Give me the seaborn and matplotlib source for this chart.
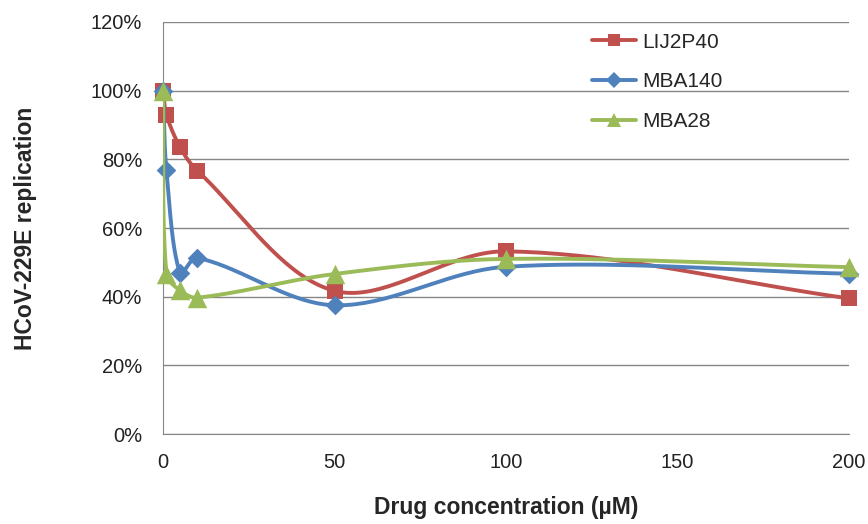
import numpy as np
import pandas as pd
import matplotlib
matplotlib.use("Agg")
import matplotlib.pyplot as plt
from matplotlib.lines import Line2D
from matplotlib.ticker import PercentFormatter
import seaborn as sns

conc = [0, 1, 5, 10, 50, 100, 200]
lij2p40 = [1.00, 0.93, 0.835, 0.767, 0.417, 0.532, 0.395]
mba140 = [1.00, 0.768, 0.468, 0.513, 0.375, 0.487, 0.467]
mba28 = [1.00, 0.466, 0.418, 0.397, 0.466, 0.510, 0.486]

series = ["LIJ2P40", "MBA140", "MBA28"]
colors = {"LIJ2P40": "#C0504D", "MBA140": "#4F81BD", "MBA28": "#9BBB59"}
markers = {"LIJ2P40": "s", "MBA140": "D", "MBA28": "^"}
msizes = {"LIJ2P40": 12, "MBA140": 10, "MBA28": 14}
leg_msizes = {"LIJ2P40": 9, "MBA140": 8, "MBA28": 10}

sns.set_style("white")
plt.rcParams['font.family'] = ['Liberation Sans', 'DejaVu Sans']

fig = plt.figure(figsize=(8.68, 5.24), dpi=100)
ax = fig.add_axes([163 / 868, 1 - 434 / 524, 686 / 868, 412 / 524])

XMAX, YMAX = 200, 1.2
SX, SY = 686 / XMAX, 412 / YMAX  # data -> pixel scale, spline in screen space


def smooth(xs, ys, n=40):
    # chord-weighted Catmull-Rom in pixel space, close to Excel's smoothed line
    P = np.column_stack([np.asarray(xs, float) * SX, np.asarray(ys, float) * SY])
    P = np.vstack([P[0], P, P[-1]])
    out = []
    for i in range(1, len(P) - 2):
        p0, p1, p2, p3 = P[i - 1], P[i], P[i + 1], P[i + 2]
        d01 = np.linalg.norm(p1 - p0)
        d12 = np.linalg.norm(p2 - p1)
        d23 = np.linalg.norm(p3 - p2)
        w1 = d12 / (d01 + d12) if d01 + d12 > 0 else 0.5
        w2 = d12 / (d12 + d23) if d12 + d23 > 0 else 0.5
        c1 = p1 + (p2 - p0) * w1 / 3
        c2 = p2 - (p3 - p1) * w2 / 3
        t = np.linspace(0, 1, n)[:, None]
        seg = ((1 - t) ** 3) * p1 + 3 * ((1 - t) ** 2) * t * c1 + 3 * (1 - t) * t ** 2 * c2 + t ** 3 * p2
        out.append(seg if i == 1 else seg[1:])
    out = np.vstack(out)
    return out[:, 0] / SX, out[:, 1] / SY


vals = {"LIJ2P40": lij2p40, "MBA140": mba140, "MBA28": mba28}
for k, name in enumerate(series):
    sx, sy = smooth(conc, vals[name])
    curve = pd.DataFrame({"x": sx, "y": sy})
    sns.lineplot(data=curve, x="x", y="y", ax=ax, color=colors[name], lw=2.8,
                 sort=False, estimator=None, zorder=2 + k * 2)
    pts = pd.DataFrame({"x": conc, "y": vals[name]})
    sns.scatterplot(data=pts, x="x", y="y", ax=ax, color=colors[name], marker=markers[name],
                    s=msizes[name] ** 2, edgecolor=colors[name], linewidth=0, zorder=3 + k * 2,
                    clip_on=False)

ax.set_xlim(0, XMAX)
ax.set_ylim(0, YMAX)
ax.set_xticks([0, 50, 100, 150, 200])
ax.set_yticks(np.arange(0, 1.21, 0.2))
ax.yaxis.set_major_formatter(PercentFormatter(1.0, decimals=0))
ax.grid(axis="y", color="#868686", lw=1)
ax.set_axisbelow(True)
for s in ["top", "right"]:
    ax.spines[s].set_visible(False)
ax.spines["left"].set_color("#868686")
ax.spines["bottom"].set_color("#868686")
ax.tick_params(axis="both", labelsize=14.5, colors="#222222")
ax.tick_params(axis="x", direction="out", length=5, width=1, color="#868686", pad=9)
ax.tick_params(axis="y", direction="out", length=5, width=1, color="#868686", pad=10)
ax.set_xlabel("Drug concentration (µM)", fontsize=16.5, fontweight="bold", labelpad=17)
ax.set_ylabel("HCoV-229E replication", fontsize=16.5, fontweight="bold", labelpad=39)

handles = [Line2D([0], [0], color=colors[n], lw=2.8, marker=markers[n],
                  markersize=leg_msizes[n], markeredgewidth=0) for n in series]
ax.legend(handles, series, loc="upper left", bbox_to_anchor=(0.598, 1.02), frameon=False,
          fontsize=15, labelspacing=1.0, handlelength=2.1, handletextpad=0.3)

fig.savefig("out.png", dpi=100)
